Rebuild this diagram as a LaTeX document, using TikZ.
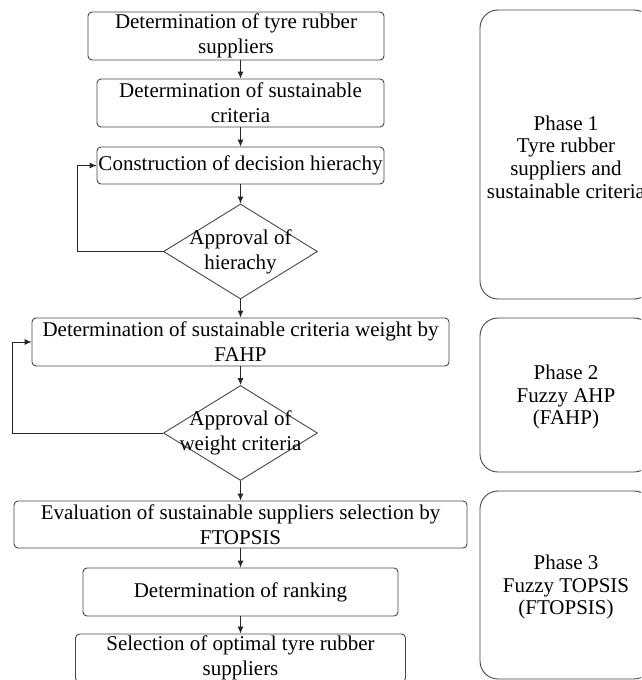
\documentclass[tikz,border=0pt]{standalone}
\usepackage{fontspec}
\setmainfont{Liberation Serif}
\usetikzlibrary{arrows.meta,shapes.geometric}
\begin{document}
\begin{tikzpicture}[x=1pt,y=-1pt,
  stepbox/.style={draw=black!72, line width=0.9pt, rounded corners=4pt,
    align=center, inner sep=0pt, font=\fontsize{21}{25}\selectfont},
  decision/.style={draw=black!72, line width=0.9pt, diamond, inner sep=0pt,
    minimum width=154pt, minimum height=95pt},
  dtext/.style={align=center, inner sep=0pt, font=\fontsize{21}{25}\selectfont},
  phasebox/.style={draw=black!72, line width=0.9pt, rounded corners=18pt},
  phasetext/.style={align=center, inner sep=0pt, font=\fontsize{21}{22.7}\selectfont},
  arr/.style={draw=black!85, line width=0.9pt, -{Latex[length=7pt,width=6pt]}}
]
% canvas
\clip (0,0) rectangle (641,680);
\fill[white] (0,0) rectangle (641,680);

% main flow
\node[stepbox, minimum width=296pt, minimum height=48pt] (b1) at (236,36)
  {Determination of tyre rubber\\suppliers};
\node[stepbox, minimum width=287pt, minimum height=48pt] (b2) at (240.5,103)
  {Determination of sustainable\\criteria};
\node[stepbox, minimum width=287pt, minimum height=37pt] (b3) at (240.5,165.5)
  {Construction of decision hierachy};
\node[decision] (d1) at (240.5,251.5) {};
\node[dtext] (t1) at (240.5,251.5) {Approval of\\hierachy};
\node[stepbox, minimum width=417pt, minimum height=48pt] (b4) at (240.5,342)
  {Determination of sustainable criteria weight by\\FAHP};
\node[decision] (d2) at (240.5,433) {};
\node[dtext] (t2) at (240.5,433) {Approval of\\weight criteria};
\node[stepbox, minimum width=453pt, minimum height=47pt] (b5) at (240.5,524.5)
  {Evaluation of sustainable suppliers selection by\\FTOPSIS};
\node[stepbox, minimum width=315pt, minimum height=48pt] (b6) at (240.5,592)
  {Determination of ranking};
\node[stepbox, minimum width=330pt, minimum height=48pt] (b7) at (240.5,658)
  {Selection of optimal tyre rubber\\suppliers};

% connectors
\draw[arr] (b1.south -| b2.north) -- (b2.north);
\draw[arr] (b2.south) -- (b3.north);
\draw[arr] (b3.south) -- (d1.north);
\draw[arr] (d1.south) -- (b4.north);
\draw[arr] (b4.south) -- (d2.north);
\draw[arr] (d2.south) -- (b5.north);
\draw[arr] (b5.south) -- (b6.north);
\draw[arr] (b6.south) -- (b7.north);

% feedback loops
\draw[arr] (d1.west) -- ++(-85.5,0) |- (b3.west);
\draw[arr] (d2.west) -- ++(-150.5,0) |- (b4.west);

% phase panels
\draw[phasebox] (480,10) rectangle (652,299);
\node[phasetext] (p1) at (566,157)
  {Phase 1\\Tyre rubber\\suppliers and\\sustainable criteria};
\draw[phasebox] (480,318) rectangle (652,472);
\node[phasetext] (p2) at (566,397)
  {Phase 2\\Fuzzy AHP\\(FAHP)};
\draw[phasebox] (480,491) rectangle (652,679);
\node[phasetext] (p3) at (566,587)
  {Phase 3\\Fuzzy TOPSIS\\(FTOPSIS)};
\end{tikzpicture}
\end{document}
